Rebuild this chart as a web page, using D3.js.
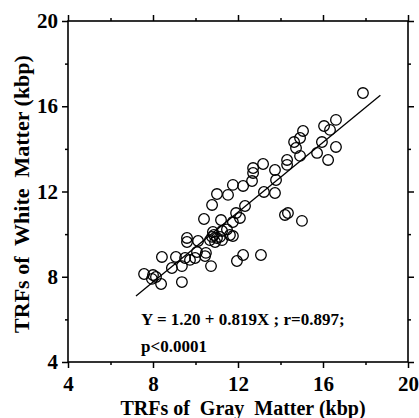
<!DOCTYPE html>
<html>
<head>
<meta charset="utf-8">
<script src="https://cdn.jsdelivr.net/npm/d3@7"></script>
<style>
  html, body { margin: 0; padding: 0; background: #fff; }
  svg { display: block; }
  text { font-family: "Liberation Serif", "Times New Roman", serif; font-weight: bold; fill: #000; }
</style>
</head>
<body>
<svg id="chart" width="419" height="418"></svg>
<script>
// Gray matter TRF (x) and white matter TRF (y), kbp
const grayMatter = [
  17.88, 16.61, 16.05, 16.33, 15.06, 14.92, 14.64, 14.73, 15.95, 16.61,
  14.92, 15.72, 16.24, 14.31, 14.31, 13.18, 12.71, 12.71, 13.74, 12.66,
  13.79, 12.24, 11.76, 11.53, 11.01, 10.78, 13.22, 13.74, 12.33, 11.91,
  12.09, 11.76, 11.20, 10.40, 14.21, 14.35, 15.01, 10.82, 11.25, 11.62,
  11.76, 10.78, 11.01, 10.87, 11.15, 10.68, 10.92, 11.25, 10.12, 9.60,
  9.60, 10.49, 10.07, 8.42, 9.08, 9.51, 9.74, 9.98, 10.45, 12.24,
  11.95, 13.08, 10.73, 8.89, 9.36, 7.58, 8.00, 8.14, 7.95, 8.38,
  9.36, 11.48
];
const whiteMatter = [
  16.62, 15.36, 15.07, 14.89, 14.84, 14.51, 14.32, 14.04, 14.32, 14.09,
  13.67, 13.81, 13.48, 13.48, 13.25, 13.29, 13.10, 12.87, 13.01, 12.49,
  12.54, 12.26, 12.31, 11.84, 11.88, 11.37, 11.98, 11.93, 11.32, 10.99,
  10.76, 10.57, 10.66, 10.71, 10.90, 10.99, 10.62, 10.10, 10.15, 9.96,
  9.91, 9.87, 9.82, 9.96, 9.87, 9.72, 9.63, 9.72, 9.68, 9.82,
  9.63, 9.12, 9.16, 8.93, 8.93, 8.88, 8.79, 8.88, 8.97, 9.02,
  8.74, 9.02, 8.50, 8.41, 8.50, 8.13, 8.08, 7.99, 7.90, 7.66,
  7.75, 10.22
];
const majorTicks = [4, 8, 12, 16, 20];
const minorTicks = [6, 10, 14, 18];
const fitIntercept = 1.20, fitSlope = 0.819, fitRange = [7.2, 18.7];
const fitLabel = "Y = 1.20 + 0.819X ; r=0.897;";
const pLabel = "p<0.0001";
const xTitle = "TRFs of  Gray  Matter (kbp)";
const yTitle = "TRFs of  White  Matter (kbp)";

const svg = d3.select("#chart");
const x = d3.scaleLinear().domain([4, 20]).range([68, 408]);
const y = d3.scaleLinear().domain([4, 20]).range([362, 21]);

function styleAxis(g) {
  g.select(".domain").remove();
  g.selectAll(".tick line").attr("stroke", "#000").attr("stroke-width", 1.5);
  g.selectAll("text").attr("font-size", 21).attr("font-family", '"Liberation Serif", serif').attr("font-weight", "bold");
}

// bottom
svg.append("g").attr("transform", `translate(0,${y(4)})`)
  .call(d3.axisBottom(x).tickValues(majorTicks).tickSize(6).tickPadding(8).tickFormat(d3.format("d")))
  .call(styleAxis);
svg.append("g").attr("transform", `translate(0,${y(4)})`)
  .call(d3.axisBottom(x).tickValues(minorTicks).tickSize(3).tickFormat(""))
  .call(styleAxis);
// top
svg.append("g").attr("transform", `translate(0,${y(20)})`)
  .call(d3.axisTop(x).tickValues(majorTicks).tickSize(6).tickFormat(""))
  .call(styleAxis);
svg.append("g").attr("transform", `translate(0,${y(20)})`)
  .call(d3.axisTop(x).tickValues(minorTicks).tickSize(3).tickFormat(""))
  .call(styleAxis);
// left
svg.append("g").attr("transform", `translate(${x(4)},0)`)
  .call(d3.axisLeft(y).tickValues(majorTicks).tickSize(6).tickPadding(4).tickFormat(d3.format("d")))
  .call(styleAxis);
svg.append("g").attr("transform", `translate(${x(4)},0)`)
  .call(d3.axisLeft(y).tickValues(minorTicks).tickSize(3).tickFormat(""))
  .call(styleAxis);
// right
svg.append("g").attr("transform", `translate(${x(20)},0)`)
  .call(d3.axisRight(y).tickValues(majorTicks).tickSize(6).tickFormat(""))
  .call(styleAxis);
svg.append("g").attr("transform", `translate(${x(20)},0)`)
  .call(d3.axisRight(y).tickValues(minorTicks).tickSize(3).tickFormat(""))
  .call(styleAxis);

// frame
svg.append("rect")
  .attr("x", x(4)).attr("y", y(20))
  .attr("width", x(20) - x(4)).attr("height", y(4) - y(20))
  .attr("fill", "none").attr("stroke", "#000").attr("stroke-width", 1.6);

// regression line
svg.append("line")
  .attr("x1", x(fitRange[0])).attr("y1", y(fitIntercept + fitSlope * fitRange[0]))
  .attr("x2", x(fitRange[1])).attr("y2", y(fitIntercept + fitSlope * fitRange[1]))
  .attr("stroke", "#000").attr("stroke-width", 1.3);

// points
svg.append("g").selectAll("circle")
  .data(grayMatter.map((g, i) => [g, whiteMatter[i]]))
  .join("circle")
  .attr("cx", d => x(d[0])).attr("cy", d => y(d[1]))
  .attr("r", 5.3)
  .attr("fill", "none").attr("stroke", "#000").attr("stroke-width", 1.3);

// annotation
svg.append("text").attr("x", 141).attr("y", 325).attr("font-size", 17).style("white-space", "pre").text(fitLabel);
svg.append("text").attr("x", 141).attr("y", 352).attr("font-size", 17).text(pLabel);

// titles
svg.append("text").attr("x", 243).attr("y", 415).attr("text-anchor", "middle")
  .attr("font-size", 20).style("white-space", "pre").text(xTitle);
svg.append("text").attr("transform", "translate(29,194) rotate(-90)").attr("text-anchor", "middle")
  .attr("font-size", 22).style("white-space", "pre").text(yTitle);
</script>
</body>
</html>
